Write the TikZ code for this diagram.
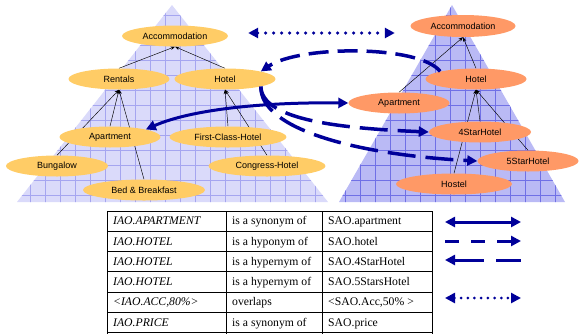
\documentclass[tikz,border=0pt]{standalone}
\usepackage{fontspec}
\setmainfont{Liberation Serif}
\newfontfamily\conceptfont{Liberation Sans}
\usetikzlibrary{shapes,arrows.meta,positioning,calc}
\definecolor{navy}{HTML}{000099}
\definecolor{iaofill}{HTML}{FFCC66}
\definecolor{saofill}{HTML}{FF9966}
\definecolor{iaotri}{RGB}{218,218,250}
\definecolor{iaogrid}{RGB}{165,165,240}
\definecolor{saotri}{RGB}{186,186,245}
\definecolor{saogrid}{RGB}{112,112,230}
\pgfdeclarelayer{tri}
\pgfdeclarelayer{links}
\pgfsetlayers{tri,links,main}

\begin{document}
\begin{tikzpicture}[x=1pt, y=-1pt,
  >={Triangle[length=10pt,width=10pt]},
  concept/.style={ellipse, fill=#1, inner sep=0pt, minimum height=21pt,
    font=\conceptfont\fontsize{9}{10}\selectfont},
  isa/.style={-{Stealth[length=4.5pt,width=3.5pt]}, black, line width=0.45pt},
  rel/.style={navy, line width=3.5pt},
  key/.style={navy, line width=3pt},
  tabline/.style={black, line width=0.8pt},
  cell/.style={inner sep=0pt, anchor=base west, font=\fontsize{11.7}{13}\selectfont}
]
  \useasboundingbox (0,0) rectangle (579,333);

  % Ontology triangles
  \begin{pgfonlayer}{tri}
    \fill[iaotri] (172,5) -- (17,202) -- (328,202) -- cycle;
    \begin{scope}
      \clip (172,5) -- (17,202) -- (328,202) -- cycle;
      \draw[iaogrid, line width=0.6pt, step=15pt] (0,210) grid (340,0);
    \end{scope}
    \fill[saotri] (452,5) -- (339,202) -- (565,202) -- cycle;
    \begin{scope}
      \clip (452,5) -- (339,202) -- (565,202) -- cycle;
      \draw[saogrid, line width=0.6pt, step=15pt] (330,210) grid (579,0);
    \end{scope}
  \end{pgfonlayer}

  % IAO concepts
  \node[concept=iaofill, minimum width=106pt] (lacc)  at (175,36)  {Accommodation};
  \node[concept=iaofill, minimum width=101pt] (lrent) at (119,79)  {Rentals};
  \node[concept=iaofill, minimum width=101pt] (lhot)  at (225,79)  {Hotel};
  \node[concept=iaofill, minimum width=101pt] (lapt)  at (110,137) {Apartment};
  \node[concept=iaofill, minimum width=117pt] (lfch)  at (228,137) {First-Class-Hotel};
  \node[concept=iaofill, minimum width=102pt] (lbung) at (57,166)  {Bungalow};
  \node[concept=iaofill, minimum width=117pt] (lcong) at (267,166) {Congress-Hotel};
  \node[concept=iaofill, minimum width=122pt] (lbnb)  at (144,190) {Bed \& Breakfast};

  % SAO concepts
  \node[concept=saofill, minimum width=105pt, minimum height=22pt] (racc) at (463,26) {Accommodation};
  \node[concept=saofill, minimum width=101pt] (rhot)  at (476,79)  {Hotel};
  \node[concept=saofill, minimum width=101pt] (rapt)  at (399,103) {Apartment};
  \node[concept=saofill, minimum width=102pt] (r4s)   at (480,132) {4StarHotel};
  \node[concept=saofill, minimum width=101pt] (r5s)   at (528,161) {5StarHotel};
  \node[concept=saofill, minimum width=116pt] (rhost) at (454,184) {Hostel};

  % is-a links
  \begin{pgfonlayer}{links}
    \foreach \c/\p in {lrent/lacc, lhot/lacc, lapt/lrent, lbung/lrent, lbnb/lrent,
                       lfch/lhot, lcong/lhot, rapt/racc, rhot/racc, r4s/rhot,
                       r5s/rhot, rhost/rhot} {
      \draw[isa] (\c.north) -- (\p.south);
    }
  \end{pgfonlayer}

  % Mappings
  \draw[rel, line cap=round, dash pattern=on 0pt off 8pt, <->]
    ([shift={(20,-3)}]lacc.east) -- ([shift={(-15.5,7)}]racc.west);
  \draw[rel, dash pattern=on 20pt off 9pt, ->]
    (rhot.north west) .. controls (420,45) and (300,45) .. (lhot.north east);
  \draw[rel, line width=3pt, <->]
    (lapt.north east) .. controls (190,110) and (260,102) .. (rapt.west);
  \draw[rel, dash pattern=on 28pt off 10pt, ->]
    (lhot.south east) .. controls (262,118) and (330,128) .. (r4s.west);
  \draw[rel, dash pattern=on 28pt off 10pt, ->]
    (lhot.south east) .. controls (260,130) and (360,155) .. (r5s.west);

  % Mapping table
  \foreach \k in {0,...,6} {
    \draw[tabline] (107,211+20.25*\k) -- (432,211+20.25*\k);
  }
  \foreach \x in {107,226,322,432} {
    \draw[tabline] (\x,211) -- (\x,334);
  }
  \foreach \iao/\rel/\sao [count=\r] in {
      IAO.APARTMENT/is a synonym of/SAO.apartment,
      IAO.HOTEL/is a hyponym of/SAO.hotel,
      IAO.HOTEL/is a hypernym of/SAO.4StarHotel,
      IAO.HOTEL/is a hypernym of/SAO.5StarsHotel,
      {<IAO.ACC,80\%>}/overlaps/{<SAO.Acc,50\% >},
      IAO.PRICE/is a synonym of/SAO.price} {
    \node[cell] (iao\r) at (113,204.7+20.25*\r) {\textit{\iao}};
    \node[cell] (rel\r) at (232,204.7+20.25*\r) {\rel};
    \node[cell] (sao\r) at (328,204.7+20.25*\r) {\sao};
  }

  % Legend
  \foreach \r/\y in {1/222, 2/241, 3/260, 5/298} {
    \coordinate (key\r w) at (445,\y);
    \coordinate (key\r e) at (521,\y);
  }
  \draw[key, <->] (key1w) -- (key1e);
  \draw[key, dash pattern=on 14pt off 12pt, ->] (key2w) -- (key2e);
  \draw[key, dash pattern=on 30pt off 12pt on 25pt off 10pt, <-] (key3w) -- (key3e);
  \draw[key, line cap=round, dash pattern=on 0pt off 6.7pt, <->] (key5w) -- (key5e);
\end{tikzpicture}
\end{document}
